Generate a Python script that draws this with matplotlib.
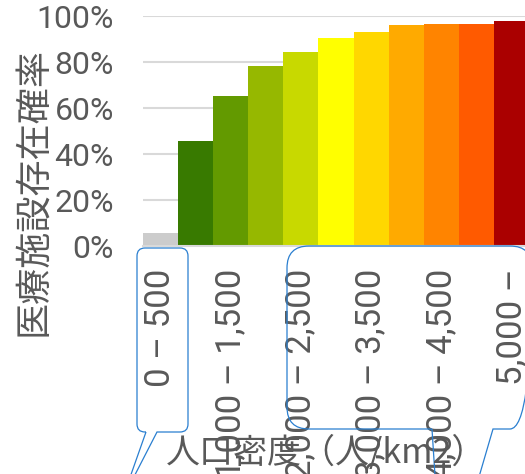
import matplotlib
matplotlib.use('Agg')
import matplotlib.pyplot as plt
import numpy as np
from matplotlib.path import Path
from matplotlib.patches import PathPatch

# Population density bands (people per km2) and share of areas with a medical facility
categories = ['0 \u2013 500', '500 \u2013 1,000', '1,000 \u2013 1,500', '1,500 \u2013 2,000',
              '2,000 \u2013 2,500', '2,500 \u2013 3,000', '3,000 \u2013 3,500', '3,500 \u2013 4,000',
              '4,000 \u2013 4,500', '4,500 \u2013 5,000', '5,000 \u2013']
values = [5.5, 45.7, 65.2, 78.3, 84.3, 90.4, 93.0, 96.1, 96.5, 96.5, 97.8]
colors = ['#cccccc', '#387a00', '#639a00', '#96b800', '#c8d900', '#ffff00',
          '#ffd700', '#ffaa00', '#ff8400', '#ff5a00', '#aa0000']
yticks = [0, 20, 40, 60, 80, 100]

TEXT = '#595959'
JP = ['Noto Sans CJK JP', 'DejaVu Sans']
W, H = 525, 474

fig = plt.figure(figsize=(W / 100, H / 100), dpi=100)
ax = fig.add_axes([143 / W, 228 / H, 386 / W, 230 / H])

x = np.arange(len(categories))
ax.bar(x, values, width=1.0, color=colors, zorder=2)

ax.set_xlim(-0.5, len(categories) - 0.5)
ax.set_ylim(0, 100)
ax.set_yticks(yticks)
ax.set_yticklabels([f'{v}%' for v in yticks], family='Roboto', fontsize=23, color=TEXT)
ax.grid(axis='y', color='#d9d9d9', linewidth=1.5, zorder=0)
ax.tick_params(axis='y', length=0, pad=21)

# only every second band gets a label
ax.set_xticks(x[::2])
ax.set_xticklabels(categories[::2], rotation=90, family='Roboto', fontsize=25, color=TEXT)
ax.tick_params(axis='x', length=0, pad=16)

for side in ['left', 'right', 'top']:
    ax.spines[side].set_visible(False)
ax.spines['bottom'].set_color('#d9d9d9')
ax.spines['bottom'].set_linewidth(1.5)

fig.text(33 / W, 1 - 192 / H, '医療施設存在確率', rotation=90, ha='center', va='center',
         family=JP, fontsize=26, color=TEXT)
fig.text(326 / W, 1 - 453 / H, '人口密度（人/km2）', ha='center', va='center',
         family=JP, fontsize=24.5, color=TEXT)

# speech-bubble outlines laid over the axis labels (pixel coords, y down)
over = fig.add_axes([0, 0, 1, 1])
over.set_xlim(0, W)
over.set_ylim(H, 0)
over.axis('off')


def bubble(x0, y0, x1, y1, r, bl, br, tip):
    verts = [(bl, y1), (x0 + r, y1), (x0, y1), (x0, y1 - r), (x0, y0 + r), (x0, y0),
             (x0 + r, y0), (x1 - r, y0), (x1, y0), (x1, y0 + r), (x1, y1 - r), (x1, y1),
             (x1 - r, y1), (br, y1), tip, (bl, y1)]
    codes = [Path.MOVETO, Path.LINETO, Path.CURVE3, Path.CURVE3, Path.LINETO, Path.CURVE3,
             Path.CURVE3, Path.LINETO, Path.CURVE3, Path.CURVE3, Path.LINETO, Path.CURVE3,
             Path.CURVE3, Path.LINETO, Path.LINETO, Path.CLOSEPOLY]
    over.add_patch(PathPatch(Path(verts, codes), facecolor='none', edgecolor='#2a7fd0',
                             linewidth=0.9, clip_on=False))


bubble(137, 248, 188, 432, 8, 146, 157, (122, 500))
bubble(287, 246, 532, 429, 22, 432, 493, (443, 600))

fig.savefig('out.png', dpi=100)
